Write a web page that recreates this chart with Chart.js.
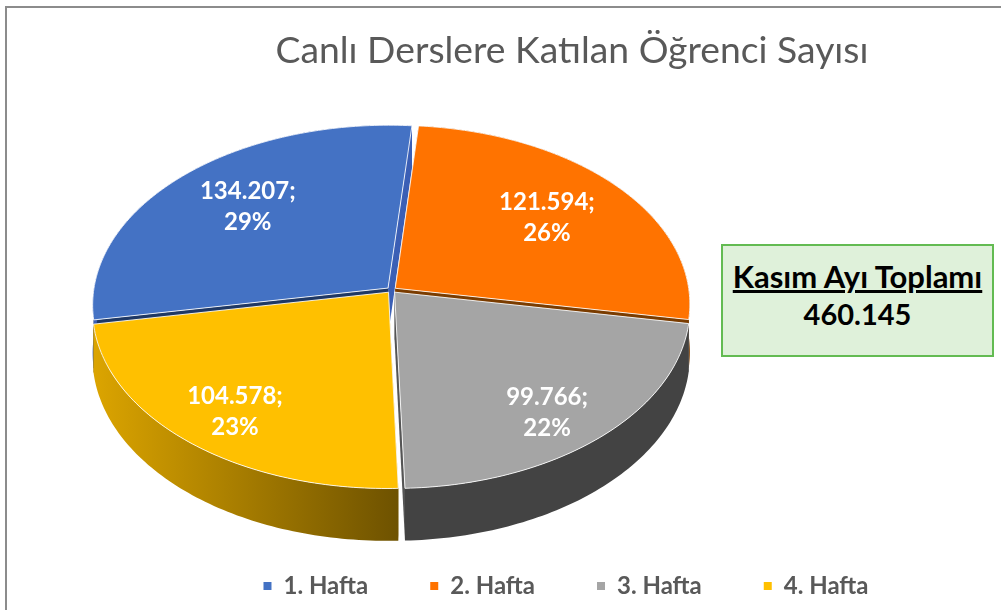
<!DOCTYPE html>
<html lang="tr"><head><meta charset="utf-8">
<style>
html,body{margin:0;padding:0;background:#fff;width:1001px;height:610px;overflow:hidden}
#wrap{position:relative;width:1001px;height:610px;overflow:hidden}
canvas{position:absolute;left:0;top:0}
#frame{position:absolute;left:5px;top:6px;width:1100px;height:700px;border:2px solid #8c8c8c;box-sizing:border-box}
#box{position:absolute;left:721px;top:244px;width:273px;height:113px;box-sizing:border-box;background:#dff1da;border:2px solid #63bb52;
 font:bold 31px Lato,sans-serif;color:#000;text-align:center;white-space:nowrap}
#box div{position:absolute;left:0;right:0}
</style></head><body>
<div id="wrap">
<div id="frame"></div>
<canvas id="c" width="1001" height="610"></canvas>
<div id="box"><div style="top:11px;text-decoration:underline">Kasım Ayı Toplamı</div><div style="top:50px;font-size:29px">460.145</div></div>
</div>
<script src="https://cdn.jsdelivr.net/npm/chart.js@4"></script>
<script>
const categories = ['1. Hafta','2. Hafta','3. Hafta','4. Hafta'];
const values = [134207,121594,99766,104578];
const sliceColors = ['#4472c4','#ff7300','#a5a5a5','#ffc000'];
const titleText = 'Canlı Derslere Katılan Öğrenci Sayısı';

// 3D projection of the pie disc (perspective view with a slight camera yaw)
const P = {cx:391.5, cy:290, A:294, B:178, k:0.0909, depth:47.5, explode:0.016, shearX:-0.024, shearY:0.007};
const startWalls = ['#1f3864','#b85400','#7f7f7f','#7f6000'];
const endWalls = ['#3b5fb5','#7a3c00','#555555','#7f6000'];
const labelReach = [0.68,0.68,0.77,0.77];
const labelNudge = [[1,-5],[-1,-1],[-4,10],[-2,5]];

function pt(theta, r, mid, drop){
  const u = r*Math.sin(theta)+P.explode*Math.sin(mid);
  const v = -r*Math.cos(theta)-P.explode*Math.cos(mid);
  const w = 1-P.k*v;
  const X = P.A*u/w, Y = P.B*v/w;
  return [P.cx+X+P.shearX*Y, P.cy+Y+P.shearY*X+(drop?P.depth/w:0)];
}
function poly(ctx, pts){ctx.beginPath();pts.forEach((p,i)=>i?ctx.lineTo(p[0],p[1]):ctx.moveTo(p[0],p[1]));ctx.closePath();}

const pie3d = {
  id:'pie3d',
  afterLayout(chart){
    // the legend row sits a little left of the title's centre
    chart.legend.left -= 6; chart.legend.right -= 6;
  },
  beforeDatasetsDraw(chart){
    const ctx = chart.ctx, arcs = chart.getDatasetMeta(0).data;
    const wallFill = i=>{
      if(i===3){const g=ctx.createLinearGradient(95,0,398,0);g.addColorStop(0,'#dba400');g.addColorStop(1,'#6e5200');return g;}
      if(i===2){return '#434343';}
      return endWalls[i];
    };
    ctx.save();
    ctx.lineJoin='round';
    [0,1,2,3].forEach(i=>{
      const a = arcs[i];
      const s = a.startAngle+Math.PI/2, e = a.endAngle+Math.PI/2, m=(s+e)/2;
      const n = Math.ceil((e-s)/(Math.PI/180));
      const top=[],bot=[];
      for(let j=0;j<=n;j++){const t=s+(e-s)*j/n;top.push(pt(t,1,m,false));bot.push(pt(t,1,m,true));}
      const c0=pt(0,0,m,false),c1=pt(0,0,m,true);
      ctx.fillStyle=startWalls[i];
      poly(ctx,[c0,top[0],bot[0],c1]);ctx.fill();
      ctx.fillStyle=endWalls[i];
      poly(ctx,[c0,top[n],bot[n],c1]);ctx.fill();
      ctx.fillStyle=wallFill(i);
      poly(ctx,top.concat(bot.slice().reverse()));ctx.fill();
      ctx.fillStyle=a.options.backgroundColor;
      poly(ctx,[c0].concat(top));ctx.fill();
      ctx.strokeStyle='rgba(255,255,255,.85)';ctx.lineWidth=1;ctx.stroke();
    });
    const total = values.reduce((x,y)=>x+y,0);
    ctx.fillStyle='#fff';ctx.font='bold 24px Lato, sans-serif';ctx.textAlign='center';ctx.textBaseline='middle';
    arcs.forEach((a,i)=>{
      const s=a.startAngle+Math.PI/2,e=a.endAngle+Math.PI/2,m=(s+e)/2;
      const p=pt(m,labelReach[i],m,false);
      const x=p[0]+labelNudge[i][0], y=p[1]+labelNudge[i][1];
      ctx.fillText(values[i].toLocaleString('tr-TR')+';',x,y-14);
      ctx.fillText(Math.round(values[i]/total*100)+'%',x,y+17);
    });
    ctx.restore();
    return false;
  }
};

new Chart(document.getElementById('c'),{
  type:'pie',
  data:{labels:categories,datasets:[{data:values,backgroundColor:sliceColors,borderWidth:0}]},
  plugins:[pie3d],
  options:{
    responsive:false,animation:false,rotation:-100.8,
    layout:{padding:{left:143,right:0,top:29,bottom:2}},
    plugins:{
      tooltip:{enabled:false},
      title:{display:true,text:titleText,fullSize:false,color:'#595959',font:{family:'Lato, sans-serif',size:37.3,weight:'normal'},padding:{top:0,bottom:0}},
      legend:{position:'bottom',fullSize:false,labels:{boxWidth:8,boxHeight:8,padding:62,color:'#595959',font:{family:'Lato, sans-serif',size:24,weight:'bold'}}}
    }
  }
});
</script>
</body></html>
